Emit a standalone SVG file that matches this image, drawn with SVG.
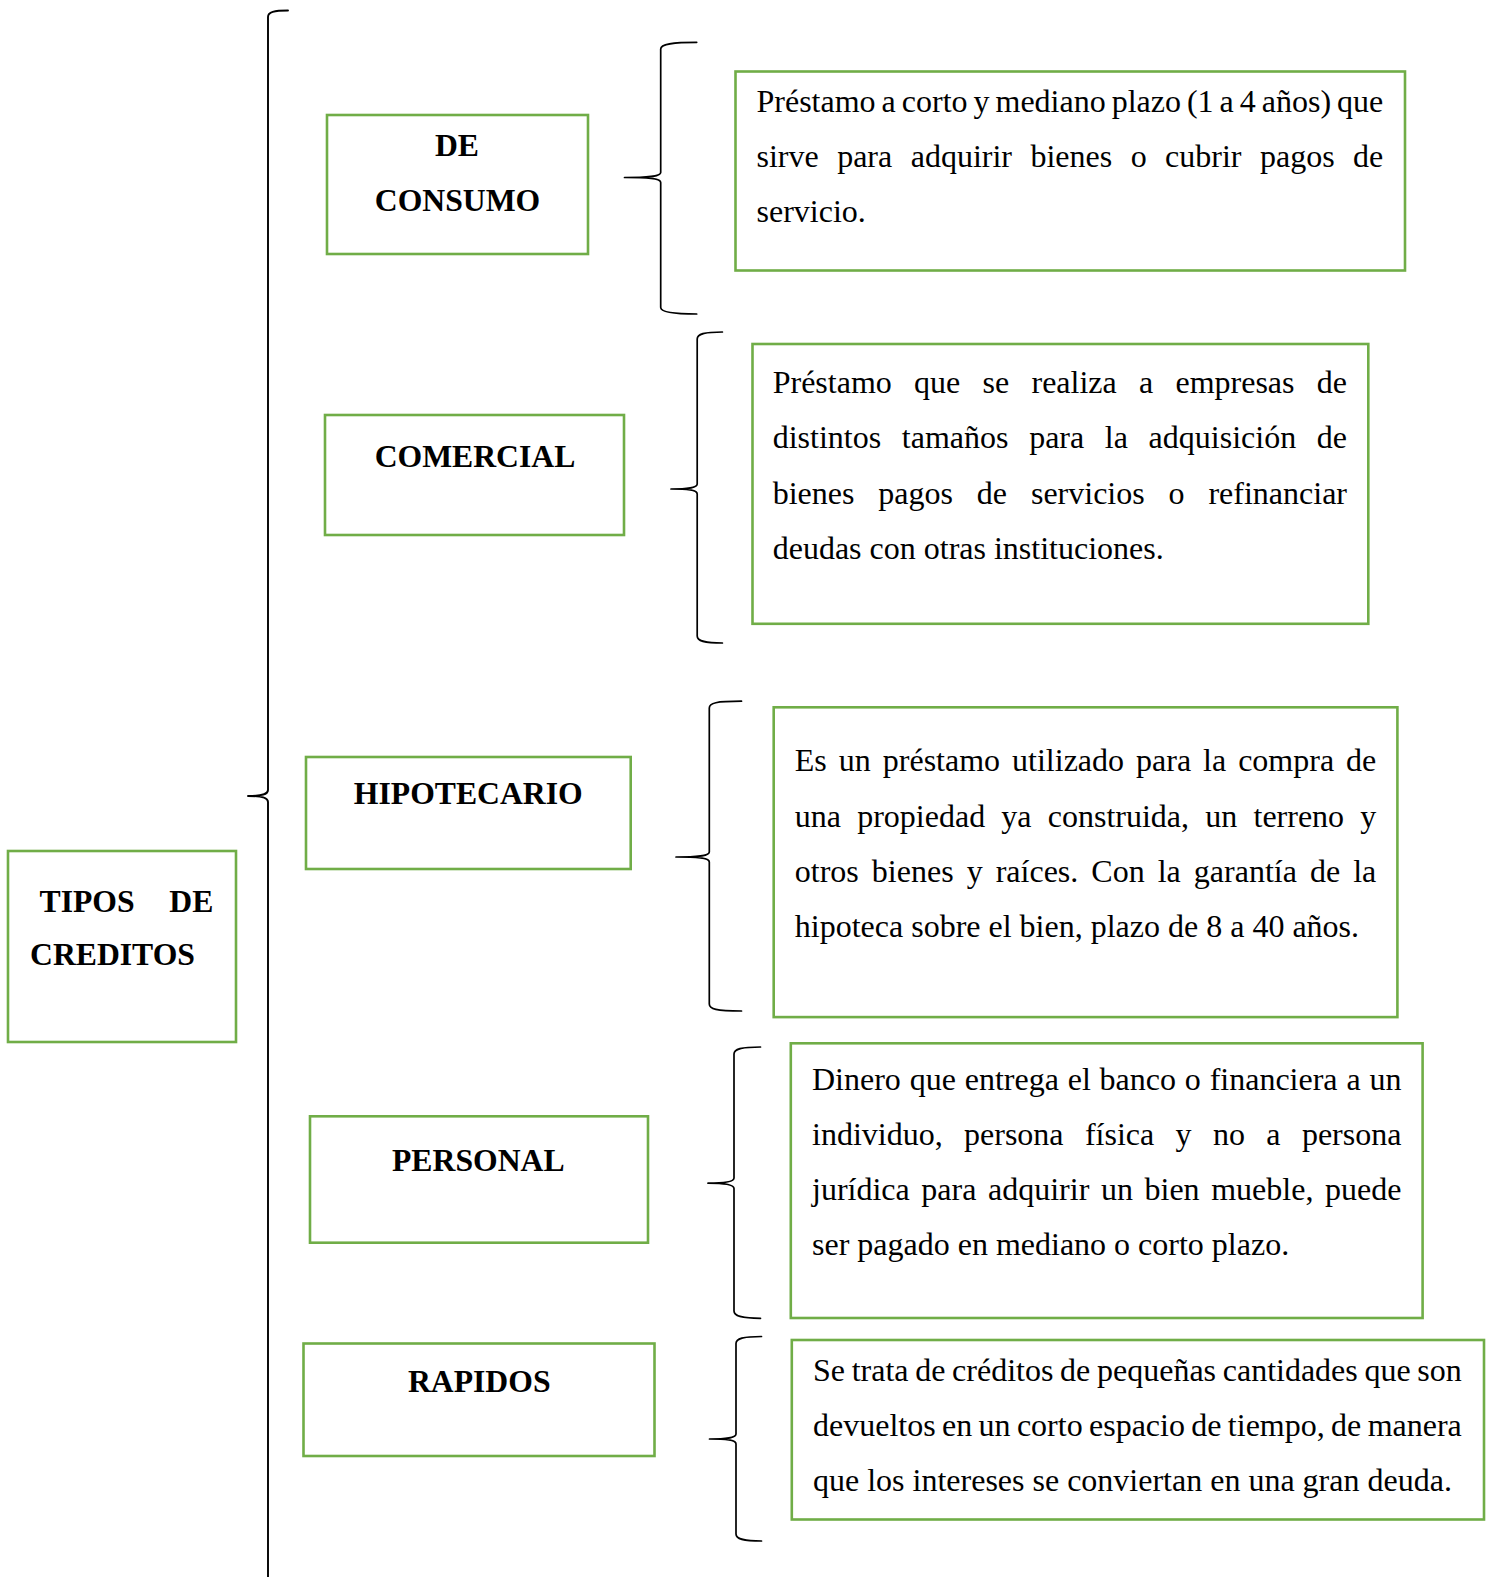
<svg xmlns="http://www.w3.org/2000/svg" width="1492" height="1577" viewBox="0 0 1492 1577">
  <style>
    .box { fill: #ffffff; stroke: #70AD47; stroke-width: 2.6; }
    .brace { fill: none; stroke: #000000; stroke-width: 1.7; stroke-linejoin: round; stroke-linecap: round; }
    .title { font-family: "Liberation Serif", "Times New Roman", serif; font-weight: bold; font-size: 31.7px; fill: #000000; }
    .ctr { text-anchor: middle; }
    .desc { font-family: "Liberation Serif", "Times New Roman", serif; font-size: 32px; fill: #000000; }
  </style>
  <rect width="1492" height="1577" fill="#ffffff"/>

  <!-- braces joining the root to the types and each type to its description -->
  <g id="connectors">
    <path class="brace" style="stroke-width:1.9" d="M 288 10.5 C 274 10.5 268 12 268 17 L 268 790 C 268 794.5 262 796 248 796 C 262 796 268 797.5 268 802 L 268 1582"/>
    <path class="brace" d="M 696.7 42.3 C 672 42.3 660.7 44 660.7 49 L 660.7 172.5 C 660.7 176 652 177.5 624.5 177.5 C 652 177.5 660.7 179 660.7 182.5 L 660.7 307.5 C 660.7 312 672 314 696.7 314"/>
    <path class="brace" d="M 722.4 332 C 704 332 697.2 334 697.2 339 L 697.2 484 C 697.2 487.5 690 489 671 489 C 690 489 697.2 490.5 697.2 494 L 697.2 636 C 697.2 641 704 643 722.4 643"/>
    <path class="brace" d="M 741.5 701.2 C 716 701.2 709.3 703 709.3 708 L 709.3 852 C 709.3 855.5 701 857 676 857 C 701 857 709.3 858.5 709.3 862 L 709.3 1004 C 709.3 1009 716 1011 741.5 1011"/>
    <path class="brace" d="M 760.5 1047 C 741 1047 734 1049 734 1054 L 734 1178 C 734 1181.5 727 1183.2 708 1183.2 C 727 1183.2 734 1185 734 1188.5 L 734 1311 C 734 1316 741 1318.3 760.5 1318.3"/>
    <path class="brace" d="M 761.5 1336.5 C 743 1336.5 736 1338.5 736 1343.5 L 736 1434 C 736 1437.5 729 1439 709.5 1439 C 729 1439 736 1440.5 736 1444 L 736 1534 C 736 1539 743 1541 761.5 1541"/>
  </g>

  <!-- root -->
  <g id="tipos-de-creditos">
    <rect class="box" x="8" y="851" width="228" height="191"/>
    <text class="title" x="39.5" y="912">TIPOS</text>
    <text class="title" x="213.3" y="912" text-anchor="end">DE</text>
    <text class="title" x="30" y="965">CREDITOS</text>
  </g>

  <!-- credit types -->
  <g id="de-consumo">
    <rect class="box" x="327" y="115" width="261" height="139"/>
    <text class="title ctr" x="457" y="156">DE</text>
    <text class="title ctr" x="457.5" y="211">CONSUMO</text>
  </g>
  <g id="comercial">
    <rect class="box" x="325" y="415" width="299" height="120"/>
    <text class="title ctr" x="475" y="466.5">COMERCIAL</text>
  </g>
  <g id="hipotecario">
    <rect class="box" x="306" y="757" width="324.7" height="112"/>
    <text class="title ctr" x="468.3" y="804">HIPOTECARIO</text>
  </g>
  <g id="personal">
    <rect class="box" x="310" y="1116.3" width="338" height="126.4"/>
    <text class="title ctr" x="478.3" y="1171">PERSONAL</text>
  </g>
  <g id="rapidos">
    <rect class="box" x="303.5" y="1343.5" width="351" height="112.5"/>
    <text class="title ctr" x="479.2" y="1391.5">RAPIDOS</text>
  </g>

  <!-- descriptions (justified lines: word-spacing plus a fixed line length) -->
  <g id="desc-consumo">
    <rect class="box" x="735.5" y="71.5" width="669.5" height="199"/>
    <text class="desc" x="756.5" y="112" textLength="626.8" lengthAdjust="spacing" style="word-spacing:-2px">Préstamo a corto y mediano plazo (1 a 4 años) que</text>
    <text class="desc" x="756.5" y="167" textLength="626.8" lengthAdjust="spacing" style="word-spacing:10.46px">sirve para adquirir bienes o cubrir pagos de</text>
    <text class="desc" x="756.5" y="222">servicio.</text>
  </g>
  <g id="desc-comercial">
    <rect class="box" x="752.5" y="344" width="615.8" height="279.8"/>
    <text class="desc" x="772.7" y="393" textLength="574.3" lengthAdjust="spacing" style="word-spacing:14.27px">Préstamo que se realiza a empresas de</text>
    <text class="desc" x="772.7" y="448" textLength="574.3" lengthAdjust="spacing" style="word-spacing:12.64px">distintos tamaños para la adquisición de</text>
    <text class="desc" x="772.7" y="503.5" textLength="574.3" lengthAdjust="spacing" style="word-spacing:15.86px">bienes pagos de servicios o refinanciar</text>
    <text class="desc" x="772.7" y="558.5">deudas con otras instituciones.</text>
  </g>
  <g id="desc-hipotecario">
    <rect class="box" x="773.7" y="707.3" width="623.7" height="309.8"/>
    <text class="desc" x="794.8" y="771" textLength="581.5" lengthAdjust="spacing" style="word-spacing:3.97px">Es un préstamo utilizado para la compra de</text>
    <text class="desc" x="794.8" y="826.5" textLength="581.5" lengthAdjust="spacing" style="word-spacing:8.2px">una propiedad ya construida, un terreno y</text>
    <text class="desc" x="794.8" y="881.5" textLength="581.5" lengthAdjust="spacing" style="word-spacing:5.04px">otros bienes y raíces. Con la garantía de la</text>
    <text class="desc" x="794.8" y="936.5">hipoteca sobre el bien, plazo de 8 a 40 años.</text>
  </g>
  <g id="desc-personal">
    <rect class="box" x="790.8" y="1043.3" width="631.8" height="274.7"/>
    <text class="desc" x="812" y="1089.5" textLength="589.4" lengthAdjust="spacing" style="word-spacing:0.81px">Dinero que entrega el banco o financiera a un</text>
    <text class="desc" x="812" y="1144.5" textLength="589.4" lengthAdjust="spacing" style="word-spacing:13.37px">individuo, persona física y no a persona</text>
    <text class="desc" x="812" y="1199.5" textLength="589.4" lengthAdjust="spacing" style="word-spacing:3.58px">jurídica para adquirir un bien mueble, puede</text>
    <text class="desc" x="812" y="1254.5">ser pagado en mediano o corto plazo.</text>
  </g>
  <g id="desc-rapidos">
    <rect class="box" x="791.8" y="1340" width="692.2" height="179.5"/>
    <text class="desc" x="813" y="1380.5" textLength="648.8" lengthAdjust="spacing" style="word-spacing:-1.32px">Se trata de créditos de pequeñas cantidades que son</text>
    <text class="desc" x="813" y="1435.5" textLength="648.8" lengthAdjust="spacing" style="word-spacing:-1.66px">devueltos en un corto espacio de tiempo, de manera</text>
    <text class="desc" x="813" y="1490.5">que los intereses se conviertan en una gran deuda.</text>
  </g>
</svg>
